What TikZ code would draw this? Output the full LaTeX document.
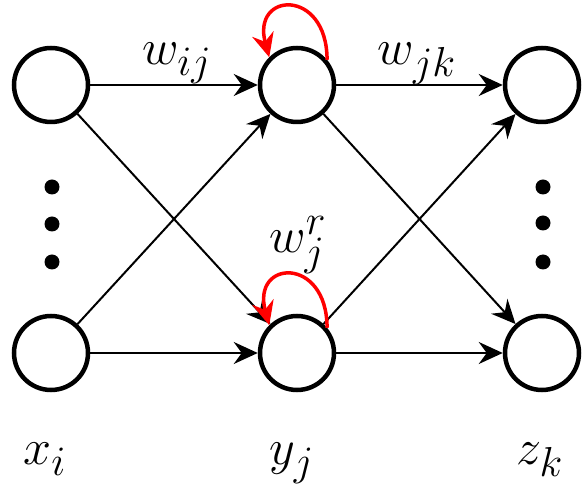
\documentclass[tikz,border=0pt]{standalone}
\usepackage{graphicx}
\usetikzlibrary{arrows.meta}
\newcommand{\biglbl}[1]{\scalebox{2.02}{\fontsize{24.88}{30}\selectfont #1}}
\begin{document}
\begin{tikzpicture}[x=1pt,y=1pt,
  neuron/.style={circle,draw=black,line width=4.5pt,minimum size=74pt,inner sep=0pt},
  conn/.style={draw=black,line width=2pt,-{Stealth[length=24pt,width=22pt,inset=8pt]}},
  rec/.style={draw=red,line width=3.5pt,-{Stealth[length=24pt,width=22pt,inset=8pt]}},
  lbl/.style={anchor=base,inner sep=0pt},
  dotc/.style={circle,fill=black,minimum size=15pt,inner sep=0pt}]
\useasboundingbox (0,0) rectangle (582,485);
% neurons (y = 485 - image y)
\node[neuron] (x1) at (51,400) {};
\node[neuron] (x2) at (51,132) {};
\node[neuron] (y1) at (297,400) {};
\node[neuron] (y2) at (297,132) {};
\node[neuron] (z1) at (542,400) {};
\node[neuron] (z2) at (542,132) {};
% dots
\node[dotc] (dl1) at (52,298) {};
\node[dotc] (dl2) at (52,261) {};
\node[dotc] (dl3) at (52,223) {};
\node[dotc] (dr1) at (543,298) {};
\node[dotc] (dr2) at (543,262) {};
\node[dotc] (dr3) at (543,223) {};
% connectors
\draw[conn] (x1) -- (y1);
\draw[conn] (x1) -- (y2);
\draw[conn] (x2) -- (y1);
\draw[conn] (x2) -- (y2);
\draw[conn] (y1) -- (z1);
\draw[conn] (y1) -- (z2);
\draw[conn] (y2) -- (z1);
\draw[conn] (y2) -- (z2);
% recurrent loops
\draw[rec] (y1.40) .. controls +(0,72) and +(-18,66) .. (y1.135);
\draw[rec] (y2.40) .. controls +(0,72) and +(-18,66) .. (y2.135);
% labels
\node[lbl] (wij) at (177,420) {\biglbl{$w_{ij}$}};
\node[lbl] (wjk) at (417,420) {\biglbl{$w_{jk}$}};
\node[lbl] (wjr) at (298,232) {\biglbl{$w_j^r$}};
\node[lbl] (xi) at (45,20) {\biglbl{$x_i$}};
\node[lbl] (yj) at (292,20) {\biglbl{$y_j$}};
\node[lbl] (zk) at (540,20) {\biglbl{$z_k$}};
\end{tikzpicture}
\end{document}
